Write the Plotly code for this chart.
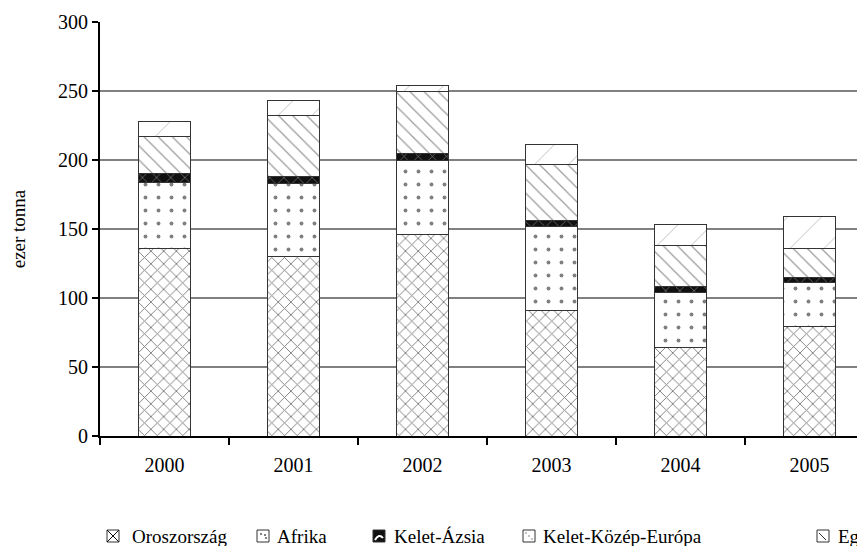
import plotly.graph_objects as go

years = ["2000", "2001", "2002", "2003", "2004", "2005"]
oroszorszag = [136, 130, 146, 91, 64, 79]
afrika = [48, 53, 54, 61, 40, 32]
kelet_azsia = [6, 5, 5, 4, 4, 4]
kelet_kozep_europa = [27, 44, 45, 41, 30, 21]
egyeb = [11, 11, 4, 14, 15, 23]
series_names = ["Oroszország", "Afrika", "Kelet-Ázsia", "Kelet-Közép-Európa", "Egyéb"]

FONT = "Liberation Serif"
OFF = 8  # page body margin in the browser
W, H = 865, 546
L, T = 100 - OFF, 22 - OFF
B = H - (436 - OFF)
R = 8
PW, PH = W - L - R, H - T - B


def px(x):
    return (x - OFF - L) / PW


def py(y):
    return (436 - y) / PH


styles = [
    dict(shape="x", fgcolor="#000000", bgcolor="white", size=9, solidity=0.2),
    dict(shape=".", fgcolor="#000000", bgcolor="white", size=13, solidity=0.07),
    dict(shape="x", fgcolor="#ffffff", bgcolor="#111111", size=10, solidity=0.12),
    dict(shape="\\", fgcolor="#333333", bgcolor="white", size=10, solidity=0.12),
    dict(shape="/", fgcolor="#555555", bgcolor="white", size=24, solidity=0.03),
]
data = [oroszorszag, afrika, kelet_azsia, kelet_kozep_europa, egyeb]

fig = go.Figure()
for name, vals, st in zip(series_names, data, styles):
    fig.add_trace(go.Bar(
        x=years, y=vals, name=name, width=0.4,
        marker=dict(color="white", line=dict(color="#333333", width=1), pattern=st),
        showlegend=False,
    ))

# manual legend (chart is cropped on the right in the reference)
shapes = []
annotations = []
leg_y = 536
items = [(113, 130), (263, 275), (379, 392), (529, 541), (823, 836)]
for i, (name, (sx, tx)) in enumerate(zip(series_names, items)):
    x0, x1 = sx - 6, sx + 6
    y0, y1 = leg_y - 6, leg_y + 6
    fill = "#111111" if i == 2 else "white"
    shapes.append(dict(type="rect", xref="paper", yref="paper",
                       x0=px(x0), x1=px(x1), y0=py(y1), y1=py(y0),
                       line=dict(color="#333333", width=1), fillcolor=fill))
    if i == 0:
        shapes.append(dict(type="line", xref="paper", yref="paper", x0=px(x0), x1=px(x1),
                           y0=py(y0), y1=py(y1), line=dict(color="#111", width=1)))
        shapes.append(dict(type="line", xref="paper", yref="paper", x0=px(x0), x1=px(x1),
                           y0=py(y1), y1=py(y0), line=dict(color="#111", width=1)))
    elif i == 1:
        for dx, dy in [(-2, -2), (2, -1), (3, 2)]:
            shapes.append(dict(type="rect", xref="paper", yref="paper",
                               x0=px(sx + dx - 0.7), x1=px(sx + dx + 0.7),
                               y0=py(leg_y + dy + 0.7), y1=py(leg_y + dy - 0.7),
                               line=dict(width=0), fillcolor="#111"))
    elif i == 2:
        shapes.append(dict(type="path", xref="paper", yref="paper",
                           path=f"M {px(x0+2)},{py(y1-2)} Q {px(sx)},{py(leg_y-3)} {px(x1-2)},{py(y1-4)}",
                           line=dict(color="white", width=2)))
    elif i == 3:
        for k in range(3):
            shapes.append(dict(type="rect", xref="paper", yref="paper",
                               x0=px(x0 + 3 + 3 * k - 0.6), x1=px(x0 + 3 + 3 * k + 0.6),
                               y0=py(y0 + 3 + 3 * k + 0.6), y1=py(y0 + 3 + 3 * k - 0.6),
                               line=dict(width=0), fillcolor="#333"))
    elif i == 4:
        shapes.append(dict(type="line", xref="paper", yref="paper", x0=px(x0 + 2), x1=px(x1 - 3),
                           y0=py(y0 + 3), y1=py(y1 - 2), line=dict(color="#333", width=1)))
    annotations.append(dict(xref="paper", yref="paper", x=px(tx), y=py(leg_y),
                            text=name, showarrow=False, xanchor="left", yanchor="middle",
                            font=dict(family=FONT, size=19, color="black")))

fig.update_layout(
    width=W, height=H,
    margin=dict(l=L, r=R, t=T, b=B),
    barmode="stack",
    plot_bgcolor="white", paper_bgcolor="white",
    font=dict(family=FONT, size=20, color="black"),
    shapes=shapes, annotations=annotations,
    xaxis=dict(range=[-0.5, -0.5 + PW / 129.0], showline=True, linecolor="black", linewidth=2,
               ticks="outside", tickson="boundaries", ticklen=7, tickwidth=2, tickcolor="black",
               showgrid=False, ticklabelstandoff=10, tickfont=dict(family=FONT, size=20)),
    yaxis=dict(range=[0, 300], tickvals=[0, 50, 100, 150, 200, 250, 300],
               showline=True, linecolor="black", linewidth=2,
               ticks="outside", ticklen=6, tickwidth=2, tickcolor="black",
               showgrid=True, gridcolor="#808080", gridwidth=1.5, zeroline=False,
               tickfont=dict(family=FONT, size=20), automargin=False,
               title=dict(text="ezer tonna", font=dict(family=FONT, size=19), standoff=32)),
)

fig.write_html("out.html")
